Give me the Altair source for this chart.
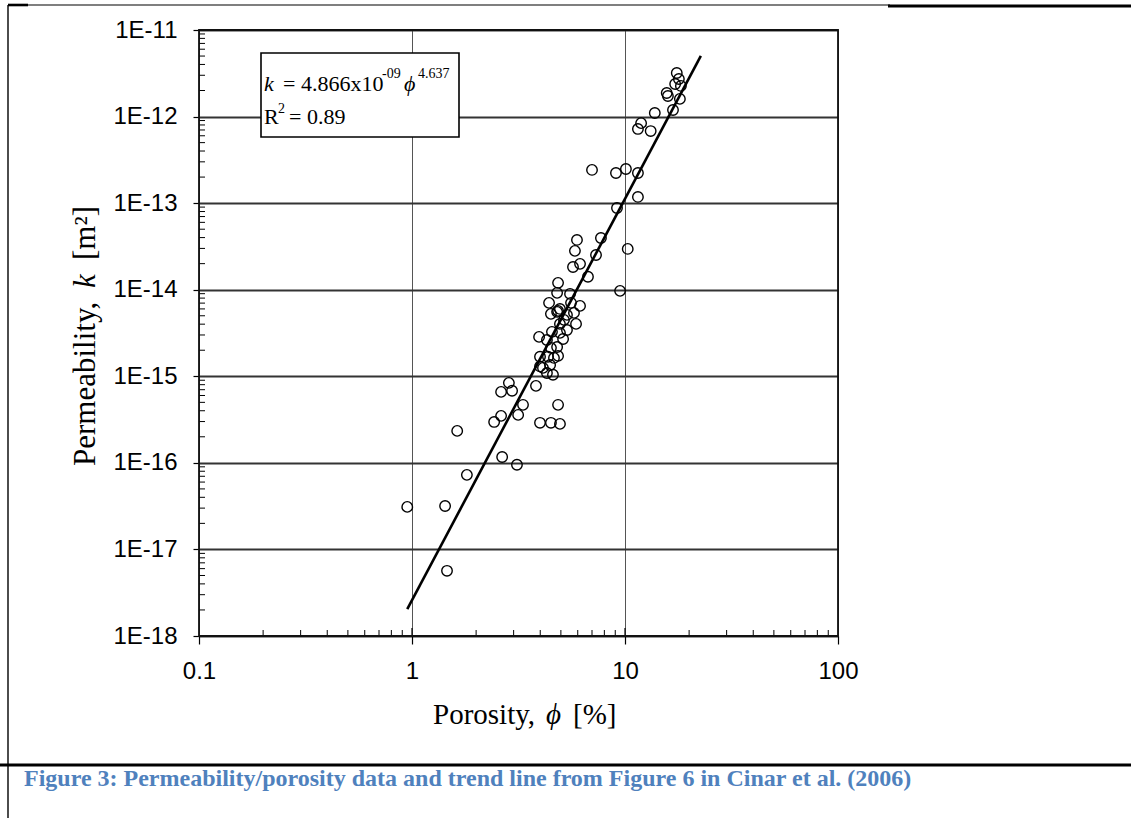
import altair as alt
import pandas as pd

# Porosity [%] and permeability [m^2] of the measured samples
porosity = [17.5, 17.9, 17.2, 18.3, 15.7, 15.9, 18.1, 16.8, 13.8, 11.9,
            11.5, 13.2, 10.1, 9.07, 7.0, 11.5, 11.5, 9.17, 10.3, 9.48,
            7.71, 5.95, 5.82, 7.31, 5.70, 6.15, 6.70, 4.85, 4.80, 5.52,
            4.40, 5.58, 6.15, 4.95, 4.80, 4.49, 5.34, 5.76, 5.17, 5.89,
            4.95, 5.34, 4.54, 4.95, 3.95, 4.30, 5.12, 4.80, 4.49, 4.85,
            3.99, 4.35, 4.64, 4.12, 4.45, 4.30, 4.59, 3.82, 2.85, 2.62,
            2.95, 3.32, 4.85, 2.62, 3.15, 2.43, 3.99, 4.49, 4.95, 1.63,
            2.65, 3.11, 1.81, 0.95, 1.43, 1.46, 3.99, 4.85]
permeability = [3.19e-12, 2.72e-12, 2.38e-12, 2.26e-12, 1.87e-12, 1.73e-12, 1.60e-12, 1.19e-12, 1.10e-12, 8.4e-13,
                7.2e-13, 6.8e-13, 2.48e-13, 2.23e-13, 2.42e-13, 2.23e-13, 1.18e-13, 8.8e-14, 2.96e-14, 9.7e-15,
                3.96e-14, 3.76e-14, 2.81e-14, 2.52e-14, 1.83e-14, 1.99e-14, 1.41e-14, 1.20e-14, 9.2e-15, 8.95e-15,
                7.05e-15, 7.05e-15, 6.5e-15, 6.0e-15, 5.55e-15, 5.26e-15, 5.12e-15, 5.40e-15, 4.48e-15, 4.03e-15,
                4.03e-15, 3.43e-15, 3.26e-15, 3.17e-15, 2.85e-15, 2.63e-15, 2.70e-15, 2.18e-15, 2.13e-15, 1.72e-15,
                1.68e-15, 1.68e-15, 1.63e-15, 1.25e-15, 1.35e-15, 1.09e-15, 1.04e-15, 7.75e-16, 8.4e-16, 6.6e-16,
                6.8e-16, 4.68e-16, 4.68e-16, 3.49e-16, 3.58e-16, 2.97e-16, 2.90e-16, 2.90e-16, 2.82e-16, 2.34e-16,
                1.17e-16, 9.5e-17, 7.27e-17, 3.10e-17, 3.18e-17, 5.66e-18, 1.3e-15, 5.7e-15]

# Power-law fit k = a * (phi/100)^b
fit_a = 4.866e-9
fit_b = 4.637
fit_r2 = 0.89
fit_span = [0.95, 22.7]

x_major = [0.1, 1, 10, 100]
y_major = [1e-18, 1e-17, 1e-16, 1e-15, 1e-14, 1e-13, 1e-12, 1e-11]
x_minor = [m * 10.0 ** e for e in (-1, 0, 1) for m in range(2, 10)]
y_minor = [m * 10.0 ** e for e in range(-18, -11) for m in range(2, 10)]

caption = "Figure 3: Permeability/porosity data and trend line from Figure 6 in Cinar et al. (2006)"

W, H = 639, 606
SERIF = "Liberation Serif"
SANS = "Liberation Sans"

xs = alt.Scale(type="log", domain=[0.1, 100], nice=False)
ys = alt.Scale(type="log", domain=[1e-18, 1e-11], nice=False)

x_axis = alt.Axis(values=x_major, format="~g", grid=True, gridColor="#555555", gridWidth=1,
                  domain=False, tickSize=8, tickColor="black", tickWidth=1.2, labelFlush=False,
                  labelFont=SANS, labelFontSize=24, labelColor="black", labelPadding=15, title="")
y_axis = alt.Axis(values=y_major, grid=True, gridColor="#333333", gridWidth=2,
                  domain=False, tickSize=6, tickColor="black", tickWidth=1.2, labelFlush=False,
                  labelFont=SANS, labelFontSize=24, labelColor="black", labelPadding=16,
                  labelExpr="'1E' + round(log(datum.value) / LN10)", title="")

X = alt.X("phi:Q", scale=xs, axis=x_axis)
Y = alt.Y("k:Q", scale=ys, axis=y_axis)

one = pd.DataFrame({"a": [0]})

pts = alt.Chart(pd.DataFrame({"phi": porosity, "k": permeability})).mark_point(
    shape="circle", filled=False, size=110, color="black", strokeWidth=1.4, opacity=1
).encode(x=X, y=Y)

trend_df = pd.DataFrame({"phi": fit_span, "k": [fit_a * (p / 100.0) ** fit_b for p in fit_span]})
trend = alt.Chart(trend_df).mark_line(color="black", strokeWidth=2.6).encode(x=X, y=Y)

xminor = alt.Chart(pd.DataFrame({"phi": x_minor})).mark_rule(color="black", strokeWidth=1).encode(
    x=X, y=alt.value(H), y2=alt.value(H - 6))
xmajor_in = alt.Chart(pd.DataFrame({"phi": [1, 10]})).mark_rule(color="black", strokeWidth=1.2).encode(
    x=X, y=alt.value(H), y2=alt.value(H - 8))
yminor = alt.Chart(pd.DataFrame({"k": y_minor})).mark_rule(color="black", strokeWidth=1).encode(
    y=Y, x=alt.value(0), x2=alt.value(6))

frame = alt.Chart(one).mark_rect(fill="white", fillOpacity=0, stroke="#111111", strokeWidth=1.8).encode(
    x=alt.value(0), x2=alt.value(W), y=alt.value(0), y2=alt.value(H))

# Equation box
box = alt.Chart(one).mark_rect(fill="white", stroke="black", strokeWidth=1.6).encode(
    x=alt.value(62), x2=alt.value(260), y=alt.value(23), y2=alt.value(107))


def label(text, x, y, size=22, style="normal", angle=0, font=SERIF, weight="normal", color="black"):
    return alt.Chart(one).mark_text(
        text=text, font=font, fontSize=size, fontStyle=style, fontWeight=weight, color=color,
        align="left", baseline="alphabetic", angle=angle
    ).encode(x=alt.value(x), y=alt.value(y))


eq = [
    label("k", 65, 61, style="italic"),
    label("= " + f"{fit_a / 1e-9:.3f}" + "x10", 84, 61),
    label("-09", 183, 48, size=14),
    label("\u03d5", 205, 61, style="italic"),
    label(f"{fit_b:.3f}", 219, 48, size=14),
    label("R", 65, 94),
    label("2", 79, 83, size=14),
    label("= " + f"{fit_r2:.2f}", 90, 94),
]

xtitle = [
    label("Porosity,", 234, 694, size=29),
    label("\u03d5", 347, 694, size=29, style="italic"),
    label("[%]", 374, 694, size=29),
]

ytitle = [
    label("Permeability,", -104, 436, size=31, angle=270),
    label("k", -104, 258, size=31, style="italic", angle=270),
    label("[m\u00b2]", -104, 230, size=31, angle=270),
]


def hline(x1, x2, y, w):
    return alt.Chart(one).mark_rule(color="black", strokeWidth=w).encode(
        x=alt.value(x1), x2=alt.value(x2), y=alt.value(y))


def vline(x, y1, y2, w):
    return alt.Chart(one).mark_rule(color="black", strokeWidth=w).encode(
        x=alt.value(x), y=alt.value(y1), y2=alt.value(y2))


page = [
    hline(-191, 691, -25, 1.2),
    hline(-191, -171, -25, 2.6),
    hline(689, 932, -24, 3),
    vline(-191, -25, 788, 1.4),
    hline(-199, 932, 735, 3),
    label(caption, -175, 756, size=24, font=SERIF, weight="bold", color="#4F81BD"),
]

chart = alt.layer(
    pts, trend, xminor, xmajor_in, yminor, frame, box, *eq, *xtitle, *ytitle, *page
).properties(
    width=W, height=H, autosize="none",
    padding={"left": 199, "top": 30, "right": 293, "bottom": 182},
    background="white"
).configure_view(stroke=None)

chart.save("out.html", embed_options={"renderer": "svg", "actions": False})
